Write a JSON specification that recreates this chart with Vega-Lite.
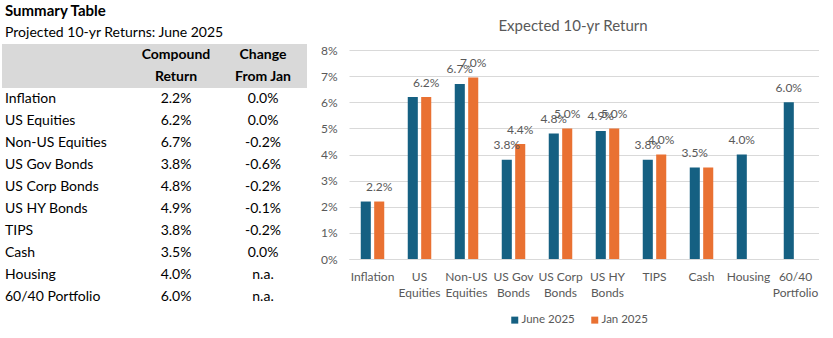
{
  "$schema": "https://vega.github.io/schema/vega-lite/v6.json",
  "padding": {"top": 3, "left": 0, "right": 0, "bottom": 0},
  "background": "white",
  "config": {"view": {"stroke": null}, "font": "Lato"},
  "resolve": {"legend": {"color": "independent"}},
  "datasets": {
    "returns": [
      {"asset": "Inflation", "series": "June 2025", "value": 0.022, "label": null},
      {"asset": "Inflation", "series": "Jan 2025", "value": 0.022, "label": "2.2%"},
      {"asset": "US Equities", "series": "June 2025", "value": 0.062, "label": null},
      {"asset": "US Equities", "series": "Jan 2025", "value": 0.062, "label": "6.2%"},
      {"asset": "Non-US Equities", "series": "June 2025", "value": 0.067, "label": "6.7%"},
      {"asset": "Non-US Equities", "series": "Jan 2025", "value": 0.0695, "label": "7.0%"},
      {"asset": "US Gov Bonds", "series": "June 2025", "value": 0.038, "label": "3.8%"},
      {"asset": "US Gov Bonds", "series": "Jan 2025", "value": 0.044, "label": "4.4%"},
      {"asset": "US Corp Bonds", "series": "June 2025", "value": 0.048, "label": "4.8%"},
      {"asset": "US Corp Bonds", "series": "Jan 2025", "value": 0.05, "label": "5.0%"},
      {"asset": "US HY Bonds", "series": "June 2025", "value": 0.049, "label": "4.9%"},
      {"asset": "US HY Bonds", "series": "Jan 2025", "value": 0.05, "label": "5.0%"},
      {"asset": "TIPS", "series": "June 2025", "value": 0.038, "label": "3.8%"},
      {"asset": "TIPS", "series": "Jan 2025", "value": 0.04, "label": "4.0%"},
      {"asset": "Cash", "series": "June 2025", "value": 0.035, "label": "3.5%"},
      {"asset": "Cash", "series": "Jan 2025", "value": 0.035, "label": null},
      {"asset": "Housing", "series": "June 2025", "value": 0.04, "label": "4.0%"},
      {"asset": "60/40 Portfolio", "series": "June 2025", "value": 0.06, "label": "6.0%"}
    ],
    "table": [
      {"row": "Inflation", "compound": "2.2%", "change": "0.0%"},
      {"row": "US Equities", "compound": "6.2%", "change": "0.0%"},
      {"row": "Non-US Equities", "compound": "6.7%", "change": "-0.2%"},
      {"row": "US Gov Bonds", "compound": "3.8%", "change": "-0.6%"},
      {"row": "US Corp Bonds", "compound": "4.8%", "change": "-0.2%"},
      {"row": "US HY Bonds", "compound": "4.9%", "change": "-0.1%"},
      {"row": "TIPS", "compound": "3.8%", "change": "-0.2%"},
      {"row": "Cash", "compound": "3.5%", "change": "0.0%"},
      {"row": "Housing", "compound": "4.0%", "change": "n.a."},
      {"row": "60/40 Portfolio", "compound": "6.0%", "change": "n.a."}
    ],
    "header": [
      {"row": "H1", "c1": "Compound", "c2": "Change"},
      {"row": "H2", "c1": "Return", "c2": "From Jan"}
    ],
    "heading": [
      {"row": "T1", "text": "Summary Table", "kind": "title"},
      {"row": "T2", "text": "Projected 10-yr Returns: June 2025", "kind": "subtitle"}
    ]
  },
  "hconcat": [
    {
      "width": 307,
      "height": 258,
      "encoding": {
        "y": {
          "field": "row",
          "type": "nominal",
          "scale": {
            "type": "band",
            "domain": ["T1", "T2", "H1", "H2", "Inflation", "US Equities", "Non-US Equities", "US Gov Bonds", "US Corp Bonds", "US HY Bonds", "TIPS", "Cash", "Housing", "60/40 Portfolio"],
            "range": [-50, 258],
            "paddingInner": 0,
            "paddingOuter": 0
          },
          "axis": null
        }
      },
      "layer": [
        {
          "data": {"name": "header"},
          "mark": {"type": "rect", "color": "#D9D9D9"},
          "encoding": {
            "x": {"datum": 2, "type": "quantitative", "scale": {"domain": [0, 307], "nice": false, "zero": false}, "axis": null},
            "x2": {"datum": 307}
          }
        },
        {
          "data": {"name": "heading"},
          "transform": [{"filter": "datum.kind == 'title'"}],
          "mark": {"type": "text", "align": "left", "baseline": "middle", "fontSize": 15, "fontWeight": "bold", "color": "#000000"},
          "encoding": {"x": {"datum": 5, "type": "quantitative"}, "text": {"field": "text"}}
        },
        {
          "data": {"name": "heading"},
          "transform": [{"filter": "datum.kind == 'subtitle'"}],
          "mark": {"type": "text", "align": "left", "baseline": "middle", "fontSize": 14, "color": "#000000"},
          "encoding": {"x": {"datum": 5, "type": "quantitative"}, "text": {"field": "text"}}
        },
        {
          "data": {"name": "header"},
          "mark": {"type": "text", "align": "center", "baseline": "middle", "fontSize": 14, "fontWeight": "bold", "color": "#000000"},
          "encoding": {"x": {"datum": 176, "type": "quantitative"}, "text": {"field": "c1"}}
        },
        {
          "data": {"name": "header"},
          "mark": {"type": "text", "align": "center", "baseline": "middle", "fontSize": 14, "fontWeight": "bold", "color": "#000000"},
          "encoding": {"x": {"datum": 263, "type": "quantitative"}, "text": {"field": "c2"}}
        },
        {
          "data": {"name": "table"},
          "mark": {"type": "text", "align": "left", "baseline": "middle", "fontSize": 14, "color": "#000000"},
          "encoding": {"x": {"datum": 5, "type": "quantitative"}, "text": {"field": "row"}}
        },
        {
          "data": {"name": "table"},
          "mark": {"type": "text", "align": "center", "baseline": "middle", "fontSize": 14, "color": "#000000"},
          "encoding": {"x": {"datum": 176, "type": "quantitative"}, "text": {"field": "compound"}}
        },
        {
          "data": {"name": "table"},
          "mark": {"type": "text", "align": "center", "baseline": "middle", "fontSize": 14, "color": "#000000"},
          "encoding": {"x": {"datum": 263, "type": "quantitative"}, "text": {"field": "change"}}
        }
      ]
    },
    {
      "width": 470,
      "height": 209,
      "data": {"name": "returns"},
      "title": {
        "text": ["", "Expected 10-yr Return"],
        "fontSize": 15,
        "lineHeight": 15.5,
        "fontWeight": "normal",
        "color": "#595959",
        "offset": 10,
        "dx": -11
      },
      "encoding": {
        "x": {
          "field": "asset",
          "type": "nominal",
          "sort": ["Inflation", "US Equities", "Non-US Equities", "US Gov Bonds", "US Corp Bonds", "US HY Bonds", "TIPS", "Cash", "Housing", "60/40 Portfolio"],
          "scale": {"paddingInner": 0.5, "paddingOuter": 0.25},
          "axis": {
            "title": null,
            "labelAngle": 0,
            "ticks": false,
            "domainColor": "#D9D9D9",
            "labelColor": "#595959",
            "labelFontSize": 12,
            "labelLineHeight": 16,
            "labelPadding": 12,
            "labelExpr": "indexof(datum.value, ' ') > 0 ? [substring(datum.value, 0, lastindexof(datum.value, ' ')), substring(datum.value, lastindexof(datum.value, ' ') + 1)] : datum.value"
          }
        },
        "xOffset": {
          "field": "series",
          "type": "nominal",
          "scale": {"domain": ["June 2025", "Jan 2025"], "paddingInner": 0.25, "paddingOuter": 0}
        },
        "y": {
          "field": "value",
          "type": "quantitative",
          "scale": {"domain": [0, 0.08], "nice": false},
          "axis": {
            "title": null,
            "values": [0, 0.01, 0.02, 0.03, 0.04, 0.05, 0.06, 0.07, 0.08],
            "format": ".0%",
            "ticks": false,
            "domain": false,
            "gridColor": "#D9D9D9",
            "labelColor": "#595959",
            "labelFontSize": 12,
            "labelPadding": 12
          }
        }
      },
      "layer": [
        {
          "mark": {"type": "bar"},
          "encoding": {
            "color": {
              "field": "series",
              "type": "nominal",
              "scale": {"domain": ["June 2025", "Jan 2025"], "range": ["#156082", "#E97132"]},
              "legend": {
                "title": null,
                "orient": "none",
                "legendX": 160,
                "legendY": 264,
                "direction": "horizontal",
                "symbolType": "square",
                "symbolSize": 49,
                "labelFontSize": 11.5,
                "labelColor": "#595959",
                "labelOffset": 1,
                "columnPadding": 14
              }
            }
          }
        },
        {
          "transform": [{"filter": "datum.label != null"}],
          "mark": {"type": "text", "baseline": "middle", "dy": -14.5, "fontSize": 12, "color": "#595959"},
          "encoding": {"text": {"field": "label"}}
        }
      ]
    }
  ],
  "spacing": 13
}
